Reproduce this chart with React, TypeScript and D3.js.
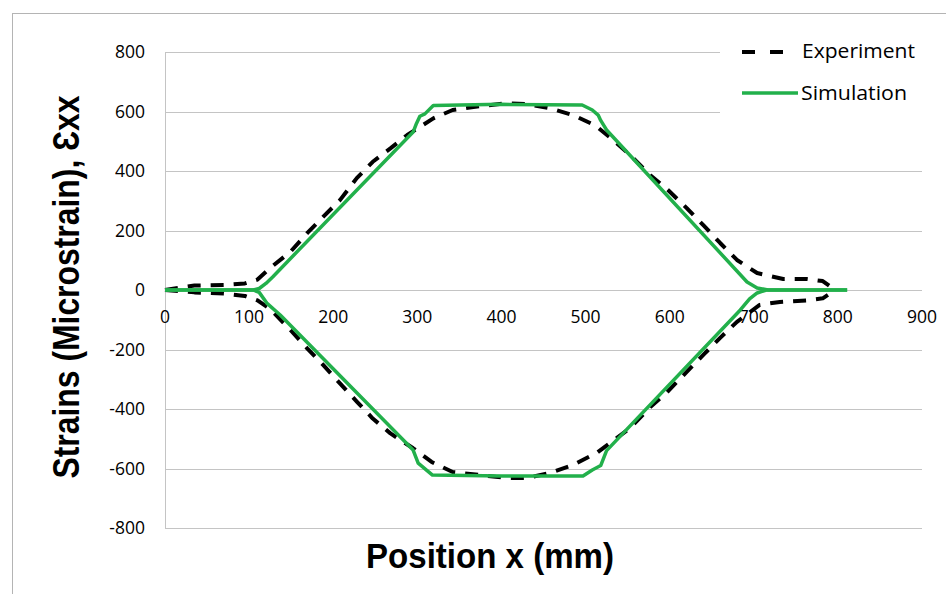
import React from "react";
import * as d3 from "d3";

const xTicks = [0, 100, 200, 300, 400, 500, 600, 700, 800, 900];
const yTicks = [-800, -600, -400, -200, 0, 200, 400, 600, 800];

const simulationUpper: [number, number][] = [
  [0, 0], [105, 0], [112, 5], [120, 22], [128, 44], [295, 531], [299, 560], [303, 584],
  [309, 592], [319, 620], [400, 624], [496, 622], [508, 605], [515, 588], [518, 570],
  [525, 538], [692, 27], [704, 7], [717, 0], [811, 0],
];
const simulationLower: [number, number][] = [
  [0, 0], [105, 0], [112, -8], [121, -44], [137, -84], [295, -538], [301, -582], [318, -622],
  [400, -625], [497, -625], [508, -605], [518, -590], [525, -540], [684, -67], [695, -30],
  [704, -10], [715, 0], [811, 0],
];
const experimentUpper: [number, number][] = [
  [0, 0], [35, 15], [70, 17], [95, 22], [110, 35], [125, 74], [149, 128], [169, 191],
  [188, 246], [208, 302], [228, 376], [247, 431], [268, 476], [288, 521], [303, 548],
  [319, 577], [342, 605], [375, 618], [406, 628], [430, 625], [458, 611], [485, 588],
  [511, 554], [533, 504], [555, 448], [577, 386], [598, 336], [620, 276], [640, 218],
  [660, 158], [680, 101], [704, 57], [735, 37], [763, 37], [782, 30], [797, 0],
];
const experimentLower: [number, number][] = [
  [0, 0], [35, -8], [70, -12], [95, -20], [110, -35], [125, -64], [149, -134], [169, -196],
  [188, -252], [208, -314], [228, -375], [247, -432], [268, -482], [295, -532], [317, -578],
  [342, -612], [375, -622], [406, -632], [430, -632], [458, -615], [485, -588], [513, -548],
  [553, -464], [577, -393], [597, -343], [620, -276], [640, -218], [660, -161], [680, -107],
  [707, -50], [731, -40], [763, -35], [782, -28], [797, 0],
];

const legendLabels = ["Experiment", "Simulation"];
const xTitle = "Position x (mm)";
const yTitle = "Strains (Microstrain), Ɛxx";

const W = 946;
const H = 594;
const GREEN = "#22b04b";
const GRID = "#c4c4c4";
const TICK_FONT = "'Open Sans', 'DejaVu Sans', sans-serif";
const TITLE_FONT = "'Liberation Sans', Arial, sans-serif";

export default function App() {
  const x = d3.scaleLinear().domain([0, 900]).range([165, 922]);
  const y = d3.scaleLinear().domain([-800, 800]).range([528, 52]);
  const line = d3
    .line<[number, number]>()
    .x((d) => x(d[0]))
    .y((d) => y(d[1]))
    .curve(d3.curveLinear);

  return (
    <svg
      width={W}
      height={H}
      viewBox={`0 0 ${W} ${H}`}
      style={{ position: "absolute", left: 0, top: 0, background: "#fff" }}
    >
      <rect x={0} y={0} width={W} height={H} fill="#fff" />
      <rect x={12.5} y={13.5} width={W} height={H} fill="none" stroke="#b4b4b4" strokeWidth={1} />

      {yTicks.map((t) => (
        <line
          key={"g" + t}
          x1={x(0)}
          x2={x(900)}
          y1={Math.round(y(t)) + 0.5}
          y2={Math.round(y(t)) + 0.5}
          stroke={GRID}
          strokeWidth={1}
        />
      ))}
      <line
        x1={Math.round(x(0)) + 0.5}
        x2={Math.round(x(0)) + 0.5}
        y1={y(800)}
        y2={y(-800)}
        stroke={GRID}
        strokeWidth={1}
      />

      {yTicks.map((t) => (
        <text
          key={"yl" + t}
          x={145}
          y={y(t)}
          dy="0.35em"
          textAnchor="end"
          fontFamily={TICK_FONT}
          fontSize={17.5}
          fill="#000"
        >
          {t}
        </text>
      ))}
      {xTicks.map((t) => (
        <text
          key={"xl" + t}
          x={x(t)}
          y={323}
          textAnchor="middle"
          fontFamily={TICK_FONT}
          fontSize={17.5}
          fill="#000"
        >
          {t}
        </text>
      ))}

      <rect x={720} y={28} width={226} height={95} fill="#fff" />

      <path
        d={line(experimentUpper) || ""}
        fill="none"
        stroke="#000"
        strokeWidth={4}
        strokeDasharray="13,10"
        strokeLinejoin="round"
      />
      <path
        d={line(experimentLower) || ""}
        fill="none"
        stroke="#000"
        strokeWidth={4}
        strokeDasharray="13,10"
        strokeLinejoin="round"
      />
      <path d={line(simulationUpper) || ""} fill="none" stroke={GREEN} strokeWidth={3.5} strokeLinejoin="round" />
      <path d={line(simulationLower) || ""} fill="none" stroke={GREEN} strokeWidth={3.5} strokeLinejoin="round" />

      <line x1={742} x2={784} y1={52} y2={52} stroke="#000" strokeWidth={4} strokeDasharray="13,15" />
      <text
        x={802}
        y={58}
        fontFamily={TICK_FONT}
        fontSize={20}
        textLength={113}
        lengthAdjust="spacingAndGlyphs"
        fill="#000"
      >
        {legendLabels[0]}
      </text>
      <line x1={742} x2={798} y1={93} y2={93} stroke={GREEN} strokeWidth={3.5} />
      <text
        x={801}
        y={100}
        fontFamily={TICK_FONT}
        fontSize={20}
        textLength={106}
        lengthAdjust="spacingAndGlyphs"
        fill="#000"
      >
        {legendLabels[1]}
      </text>

      <text
        x={490}
        y={568}
        textAnchor="middle"
        fontFamily={TITLE_FONT}
        fontWeight="bold"
        fontSize={35}
        textLength={248}
        lengthAdjust="spacingAndGlyphs"
        fill="#000"
      >
        {xTitle}
      </text>
      <text
        transform="translate(79,287) rotate(-90)"
        textAnchor="middle"
        fontFamily={TITLE_FONT}
        fontWeight="bold"
        fontSize={37}
        textLength={383}
        lengthAdjust="spacingAndGlyphs"
        fill="#000"
      >
        {yTitle}
      </text>
    </svg>
  );
}
